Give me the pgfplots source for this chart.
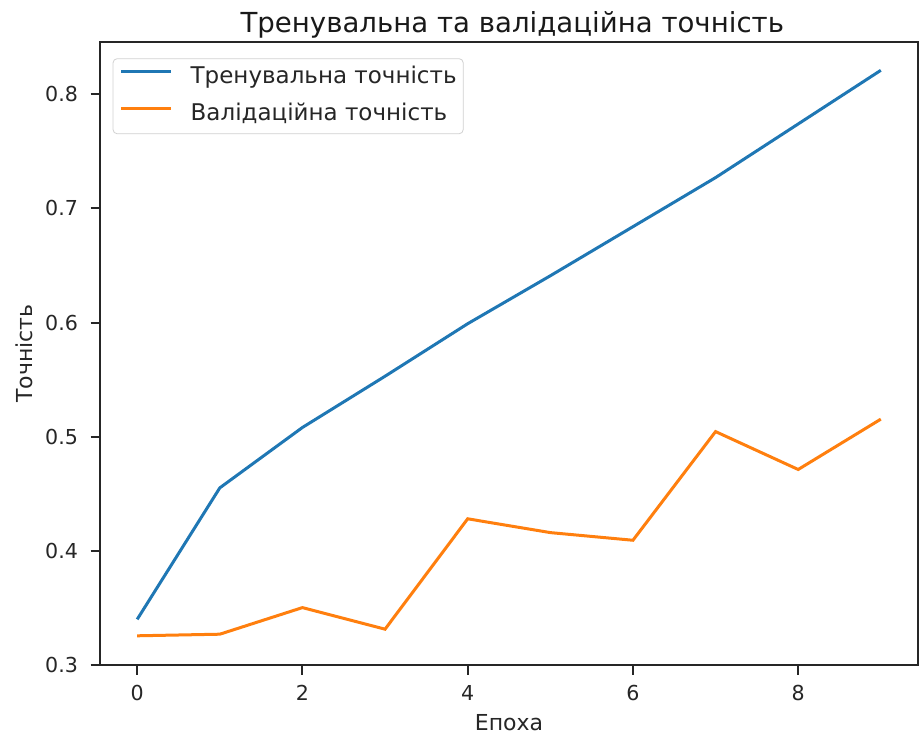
\documentclass[border=0pt]{standalone}
\usepackage{fontspec}
\setmainfont{DejaVu Sans}
\usepackage{pgfplots}
\pgfplotsset{compat=1.18}
\definecolor{mplblue}{HTML}{1F77B4}
\definecolor{mplorange}{HTML}{FF7F0E}
\begin{document}
\begin{tikzpicture}
\begin{axis}[
  width=409pt, height=311.5pt, scale only axis,
  xmin=-0.45, xmax=9.45, ymin=0.3, ymax=0.8458,
  xtick={0,2,4,6,8}, ytick={0.3,0.4,0.5,0.6,0.7,0.8},
  /pgf/number format/assume math mode=true,
  tick align=outside, tick pos=left, major tick length=4.75pt,
  every tick/.style={black!85, line width=1pt},
  axis line style={black!85, line width=1pt},
  ticklabel style={font=\fontsize{10.3}{12}\selectfont, text=black!85},
  xticklabel style={yshift=-2pt},
  yticklabel style={xshift=-2.75pt, /pgf/number format/.cd, fixed, fixed zerofill, precision=1},
  every axis title shift=0pt,
  title={Тренувальна та валідаційна точність},
  title style={font=\fontsize{13.8}{16}\selectfont, at={(axis description cs:0.504,1.0145)}, anchor=base, text=black!90},
  xlabel={Епоха},
  xlabel style={font=\fontsize{11}{13}\selectfont, at={(axis description cs:0.5,-0.1043)}, anchor=base, text=black!85},
  ylabel={Точність},
  ylabel style={font=\fontsize{11}{13}\selectfont, at={(axis description cs:-0.0825,0.5)}, anchor=base, text=black!85},
  legend style={at={(axis description cs:0.0155,0.9738)}, anchor=north west, draw=black!18, rounded corners=2pt,
    font=\fontsize{11.5}{13}\selectfont, text=black!85, inner xsep=3.3pt, inner ysep=4.1pt, row sep=7.3pt, column sep=9pt,
    nodes={inner sep=0pt, text height=8.5pt, text depth=2.5pt},
    cells={anchor=west}},
  legend image code/.code={\draw[#1, line width=1.5pt] (0pt,3pt) -- (25pt,3pt);},
]
\addplot[mplblue, line width=1.5pt] coordinates {
  (0,0.340) (1,0.4552) (2,0.5081) (3,0.553) (4,0.599) (5,0.641) (6,0.684) (7,0.727) (8,0.774) (9,0.821)
};
\addlegendentry{Тренувальна точність}
\addplot[mplorange, line width=1.5pt] coordinates {
  (0,0.3256) (1,0.327) (2,0.3503) (3,0.3314) (4,0.4281) (5,0.4160) (6,0.4093) (7,0.5045) (8,0.4713) (9,0.5154)
};
\addlegendentry{Валідаційна точність}
\coordinate (sw) at (rel axis cs:0,0);
\coordinate (ne) at (rel axis cs:1,1);
\end{axis}
\pgfresetboundingbox
\path[use as bounding box] ([shift={(-50pt,-35pt)}]sw) rectangle ([shift={(1pt,21pt)}]ne);
\end{tikzpicture}
\end{document}
